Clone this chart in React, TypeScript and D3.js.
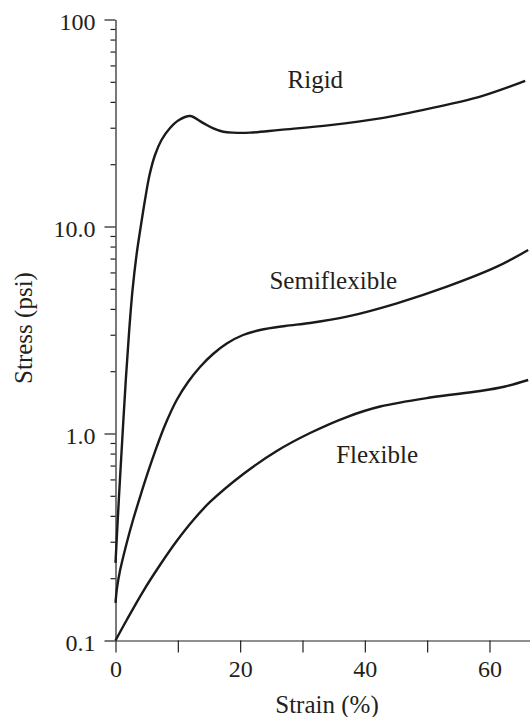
import React, { useEffect, useRef } from "react";
import * as d3 from "d3";

// strain (%) / stress (psi)
const rigidStrain = [0, 0.53, 1.08, 1.65, 2.2, 2.73, 3.37, 4.09, 4.73, 5.46, 6.34, 7.38, 8.75, 10.19, 11.96, 14.09, 15.7, 17.3, 18.86, 21.59, 26.4, 34.43, 42.46, 50.48, 58.51, 65.73];
const rigidStress = [0.237, 0.477, 0.93, 1.81, 3.16, 4.93, 7.28, 10.17, 13.43, 17.74, 22.15, 26.18, 29.92, 32.7, 34.18, 31.6, 29.8, 28.7, 28.4, 28.4, 29.3, 30.9, 33.3, 37.2, 42.4, 50.5];

const semiStrain = [0, 0.24, 0.72, 1.8, 2.81, 3.93, 5.22, 6.61, 7.95, 9.82, 11.64, 13.56, 15.65, 17.85, 20.47, 23.19, 27.21, 31.22, 37.11, 45.14, 53.16, 61.19, 66.21];
const semiStress = [0.152, 0.179, 0.217, 0.296, 0.382, 0.493, 0.652, 0.861, 1.099, 1.451, 1.773, 2.096, 2.422, 2.722, 2.991, 3.162, 3.306, 3.418, 3.667, 4.256, 5.12, 6.395, 7.7];

const flexStrain = [0, 1.8, 4.46, 7.14, 9.82, 12.49, 15.17, 20.51, 25.87, 31.22, 37.11, 42.46, 50.48, 58.51, 62.52, 66.21];
const flexStress = [0.1, 0.1256, 0.1734, 0.2316, 0.3024, 0.3821, 0.4668, 0.6373, 0.8233, 1.0056, 1.2013, 1.35, 1.492, 1.604, 1.687, 1.813];

const seriesNames = ["Rigid", "Semiflexible", "Flexible"];
// where each curve's name sits, in strain / stress units
const labelStrain = [27.6, 24.7, 35.4];
const labelStress = [46.6, 4.98, 0.718];

const yMajor = [0.1, 1, 10, 100];
const yMajorLabels = ["0.1", "1.0", "10.0", "100"];
const xTicks = [0, 10, 20, 30, 40, 50, 60];

const FONT = '"Liberation Serif", "DejaVu Serif", "Times New Roman", serif';

export default function App() {
  const ref = useRef<SVGSVGElement>(null);

  useEffect(() => {
    const svg = d3.select(ref.current);
    svg.selectAll("*").remove();

    const ink = "#231f20";

    const x = d3.scaleLinear().domain([0, 66.5]).range([115.5, 530]);
    const y = d3.scaleLog().domain([0.1, 100]).range([640.5, 19.5]);

    // minor ticks 2..9 in every decade
    const yMinor: number[] = [];
    [0.1, 1, 10].forEach(d => {
      for (let k = 2; k <= 9; k++) yMinor.push(+(d * k).toPrecision(3));
    });

    // y axis, minor ticks
    svg
      .append("g")
      .attr("transform", "translate(115.5,0)")
      .call(d3.axisLeft(y).tickValues(yMinor).tickSize(5).tickSizeOuter(0).tickFormat(() => ""))
      .call(g => g.select(".domain").remove());

    // y axis, major ticks + line
    svg
      .append("g")
      .attr("class", "yaxis")
      .attr("transform", "translate(115.5,0)")
      .call(
        d3
          .axisLeft(y)
          .tickValues(yMajor)
          .tickSize(11)
          .tickSizeOuter(0)
          .tickPadding(9)
          .tickFormat((d, i) => yMajorLabels[i])
      )
      .selectAll("text")
      .attr("dy", "0.4em");

    // x axis
    svg
      .append("g")
      .attr("transform", "translate(0,640.5)")
      .call(
        d3
          .axisBottom(x)
          .tickValues(xTicks)
          .tickSize(12)
          .tickSizeOuter(0)
          .tickPadding(7.5)
          .tickFormat(d => ((d as number) % 20 === 0 ? String(d) : ""))
      );

    svg.selectAll("g").attr("font-family", null).attr("font-size", null);
    svg.selectAll(".domain, .tick line").attr("stroke", ink).attr("stroke-width", 1.2);
    svg.selectAll(".tick text").attr("fill", ink).style("font-size", "24px");

    // curves
    const line = d3
      .line<[number, number]>()
      .x(d => x(d[0]))
      .y(d => y(d[1]))
      .curve(d3.curveCatmullRom.alpha(0.5));

    const curves: [number, number][][] = [
      rigidStrain.map((s, i) => [s, rigidStress[i]]),
      semiStrain.map((s, i) => [s, semiStress[i]]),
      flexStrain.map((s, i) => [s, flexStress[i]]),
    ];

    svg
      .selectAll("path.curve")
      .data(curves)
      .enter()
      .append("path")
      .attr("class", "curve")
      .attr("d", d => line(d))
      .attr("fill", "none")
      .attr("stroke", "#1a1a1a")
      .attr("stroke-width", 2.4);

    // curve names
    svg
      .selectAll("text.name")
      .data(seriesNames)
      .enter()
      .append("text")
      .attr("class", "name")
      .attr("x", (d, i) => x(labelStrain[i]))
      .attr("y", (d, i) => y(labelStress[i]))
      .style("font-size", "25px")
      .attr("fill", ink)
      .text(d => d);

    // axis titles
    svg
      .append("text")
      .attr("x", 327)
      .attr("y", 713)
      .attr("text-anchor", "middle")
      .style("font-size", "25px")
      .attr("fill", ink)
      .text("Strain (%)");

    svg
      .append("text")
      .attr("transform", "translate(32,328) rotate(-90)")
      .attr("text-anchor", "middle")
      .style("font-size", "25px")
      .attr("fill", ink)
      .text("Stress (psi)");
  }, []);

  return (
    <svg
      ref={ref}
      width={530}
      height={717}
      style={{ position: "absolute", left: 0, top: 0, background: "#fff", fontFamily: FONT }}
    />
  );
}
